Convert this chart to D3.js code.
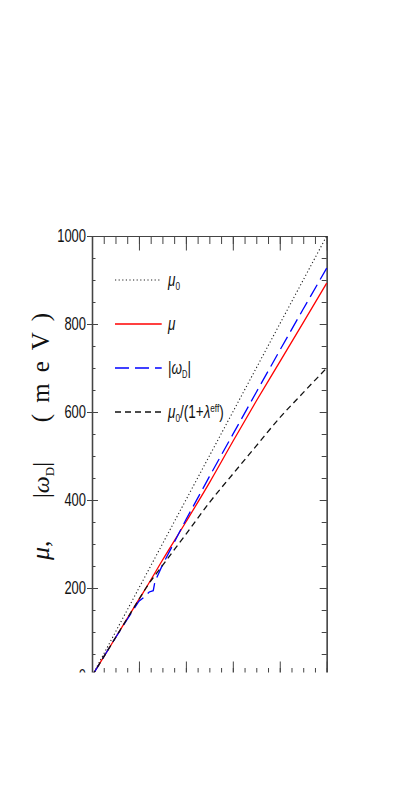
<!DOCTYPE html>
<html>
<head>
<meta charset="utf-8">
<script src="https://cdn.jsdelivr.net/npm/d3@7"></script>
<style>
  body { margin: 0; background: #fff; }
  svg { display: block; }
</style>
</head>
<body>
<svg id="chart" width="399" height="798"></svg>
<script>
// DATA (x is the fraction along the horizontal axis, y values in meV)
const tGrid   = [0, 0.1, 0.2, 0.23, 0.3, 0.4, 0.5, 0.6, 0.7, 0.8, 0.9, 1.0];
const mu0     = [0, 100, 200, 230, 300, 400, 500, 600, 700, 800, 900, 1000];
const mu      = [0, 87, 174, 200, 263, 350, 439, 533, 625, 714, 803, 893];
const muRenorm = [0, 87, 174, 200, 251, 322, 394, 459, 523, 587, 644, 700];
const tBlue   = [0, 0.1, 0.2, 0.226, 0.244, 0.261, 0.268, 0.3, 0.4, 0.5, 0.6, 0.7, 0.8, 0.9, 1.0];
const omegaD  = [0, 87, 170, 181, 191, 194, 214, 252, 355, 453, 549, 645, 740, 834, 927];

const yMajor = [0, 200, 400, 600, 800, 1000];
const yMinor = d3.range(0, 1001, 50);
const xMajor = [0, 0.2, 0.4, 0.6, 0.8, 1.0];
const xMinor = d3.range(0, 1.0001, 0.05);

const legendY = [900, 800, 700, 600];

const width = 399, height = 798;
const plot = { left: 92, right: 326.7, top: 236, bottom: 676 };

const svg = d3.select("#chart");

// SCALES
const xScale = d3.scaleLinear().domain([0, 1]).range([plot.left, plot.right]);
const yScale = d3.scaleLinear().domain([0, 1000]).range([plot.bottom, plot.top]);

const axisColor = "#444";

// AXES
function styleAxis(g) {
  g.selectAll("path.domain").attr("stroke", axisColor).attr("stroke-width", 1.2);
  g.selectAll(".tick line").attr("stroke", axisColor).attr("stroke-width", 1);
  g.selectAll(".tick text").remove();
}

// bottom: ticks pointing up
svg.append("g").attr("transform", `translate(0,${plot.bottom})`)
  .call(d3.axisTop(xScale).tickValues(xMinor).tickSize(8).tickSizeOuter(0))
  .call(styleAxis);
svg.append("g").attr("transform", `translate(0,${plot.bottom})`)
  .call(d3.axisTop(xScale).tickValues(xMajor).tickSize(14.5).tickSizeOuter(0))
  .call(styleAxis);

// top: ticks pointing down
svg.append("g").attr("transform", `translate(0,${plot.top})`)
  .call(d3.axisBottom(xScale).tickValues(xMinor).tickSize(8).tickSizeOuter(0))
  .call(styleAxis);
svg.append("g").attr("transform", `translate(0,${plot.top})`)
  .call(d3.axisBottom(xScale).tickValues(xMajor).tickSize(14.5).tickSizeOuter(0))
  .call(styleAxis);

// left: minor inward, major crossing
svg.append("g").attr("transform", `translate(${plot.left},0)`)
  .call(d3.axisRight(yScale).tickValues(yMinor).tickSize(3.5).tickSizeOuter(0))
  .call(styleAxis);
svg.append("g").attr("transform", `translate(${plot.left},0)`)
  .call(d3.axisRight(yScale).tickValues(yMajor).tickSize(6).tickSizeOuter(0))
  .call(styleAxis);
svg.append("g").attr("transform", `translate(${plot.left},0)`)
  .call(d3.axisLeft(yScale).tickValues(yMajor).tickSize(5).tickSizeOuter(0))
  .call(styleAxis);

// right: ticks pointing left
svg.append("g").attr("transform", `translate(${plot.right},0)`)
  .call(d3.axisLeft(yScale).tickValues(yMinor).tickSize(5).tickSizeOuter(0))
  .call(styleAxis);
svg.append("g").attr("transform", `translate(${plot.right},0)`)
  .call(d3.axisLeft(yScale).tickValues(yMajor).tickSize(7).tickSizeOuter(0))
  .call(styleAxis);

// y tick labels (narrow)
svg.selectAll("text.ylab")
  .data(yMajor)
  .join("text")
  .attr("class", "ylab")
  .attr("transform", d => `translate(${plot.left - 6},${yScale(d)}) scale(0.72,1)`)
  .attr("dy", "0.36em")
  .attr("text-anchor", "end")
  .attr("font-family", "Liberation Sans, Arial, sans-serif")
  .attr("font-size", 18)
  .attr("fill", "#111")
  .text(d => d);

// LINES
const smooth = d3.line().curve(d3.curveMonotoneX).x(d => xScale(d[0])).y(d => yScale(d[1]));
const straight = d3.line().x(d => xScale(d[0])).y(d => yScale(d[1]));

const series = [
  { key: "mu0", pts: d3.zip(tGrid, mu0), color: "#222", dash: "1.2,2.4", width: 1.1, gen: smooth },
  { key: "mu", pts: d3.zip(tGrid, mu), color: "#ff0000", dash: null, width: 1.3, gen: smooth },
  { key: "omega", pts: d3.zip(tBlue, omegaD), color: "#0000ff", dash: "14,6", width: 1.3, gen: straight },
  { key: "renorm", pts: d3.zip(tGrid, muRenorm), color: "#111", dash: "6,4", width: 1.3, gen: smooth }
];

svg.selectAll("path.series")
  .data(series)
  .join("path")
  .attr("class", "series")
  .attr("d", d => d.gen(d.pts))
  .attr("fill", "none")
  .attr("stroke", d => d.color)
  .attr("stroke-width", d => d.width)
  .attr("stroke-dasharray", d => d.dash);

// LEGEND
const legend = svg.append("g");
legend.selectAll("line")
  .data(series)
  .join("line")
  .attr("x1", xScale(0.098))
  .attr("x2", xScale(0.297))
  .attr("y1", (d, i) => yScale(legendY[i]))
  .attr("y2", (d, i) => yScale(legendY[i]))
  .attr("stroke", d => d.color)
  .attr("stroke-width", d => d.width)
  .attr("stroke-dasharray", d => d.dash);

const legText = legend.selectAll("text")
  .data(series)
  .join("text")
  .attr("transform", (d, i) => `translate(${xScale(0.324)},${yScale(legendY[i])}) scale(0.75,1)`)
  .attr("dy", "0.32em")
  .attr("font-family", "Liberation Sans, Arial, sans-serif")
  .attr("font-size", 18)
  .attr("fill", "#111");

legText.each(function(d) {
  const t = d3.select(this);
  if (d.key === "mu0") {
    t.append("tspan").attr("font-style", "italic").text("μ");
    t.append("tspan").attr("font-size", 11).attr("dy", 4).text("0");
  } else if (d.key === "mu") {
    t.append("tspan").attr("font-style", "italic").text("μ");
  } else if (d.key === "omega") {
    t.append("tspan").text("|");
    t.append("tspan").attr("font-style", "italic").text("ω");
    t.append("tspan").attr("font-size", 10).attr("dy", 4).text("D");
    t.append("tspan").attr("dy", -4).text("|");
  } else {
    t.append("tspan").attr("font-style", "italic").text("μ");
    t.append("tspan").attr("font-size", 11).attr("dy", 4).text("0");
    t.append("tspan").attr("dy", -4).text("/(1+");
    t.append("tspan").attr("font-style", "italic").text("λ");
    t.append("tspan").attr("font-size", 11).attr("dy", -6).text("eff");
    t.append("tspan").attr("dy", 6).text(")");
  }
});

// Y AXIS TITLE (three pieces, spread out as in the original)
const titleFont = "Liberation Serif, Times New Roman, serif";
const t1 = svg.append("text")
  .attr("transform", "translate(49,560) rotate(-90)")
  .attr("text-anchor", "start")
  .attr("font-family", titleFont).attr("font-size", 26).attr("fill", "#111");
t1.append("tspan").attr("font-style", "italic").text("μ");
t1.append("tspan").text(",");

const t2 = svg.append("text")
  .attr("transform", "translate(49,480) rotate(-90)")
  .attr("text-anchor", "middle")
  .attr("font-family", titleFont).attr("font-size", 24).attr("fill", "#111");
t2.append("tspan").text("|");
t2.append("tspan").attr("font-style", "italic").text("ω");
t2.append("tspan").attr("font-size", 13).attr("dy", 5).text("D");
t2.append("tspan").attr("dy", -5).text("|");

svg.append("text")
  .attr("transform", "translate(49,362) rotate(-90)")
  .attr("text-anchor", "middle")
  .attr("font-family", titleFont).attr("font-size", 25)
  .attr("letter-spacing", 11)
  .attr("fill", "#111")
  .text("(meV)");

// the picture is cut off just below the frame
svg.append("rect")
  .attr("x", 0).attr("y", 672.5)
  .attr("width", width).attr("height", height - 672.5)
  .attr("fill", "#fff");
</script>
</body>
</html>
